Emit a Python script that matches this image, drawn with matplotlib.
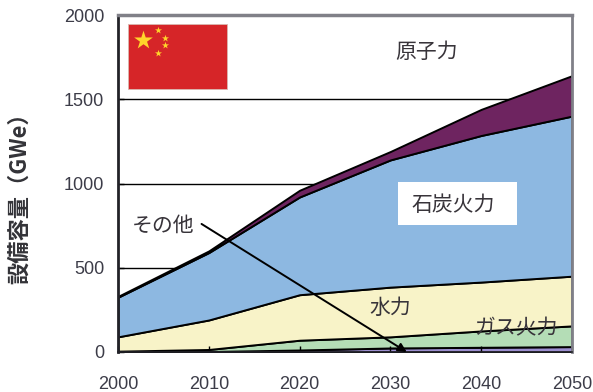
import matplotlib
matplotlib.use('Agg')
import matplotlib.pyplot as plt
from matplotlib.patches import Rectangle

plt.rcParams['font.family'] = ['Noto Sans CJK JP', 'DejaVu Sans']

years = [2000, 2010, 2020, 2030, 2040, 2050]

# installed capacity per source (GWe), bottom of the stack first
other = [3, 3, 12, 24, 28, 32]
gas = [2, 12, 58, 66, 97, 123]
hydro = [85, 175, 270, 295, 290, 295]
coal = [235, 400, 580, 755, 870, 950]
nuclear = [5, 10, 40, 50, 155, 240]

colors = ['#9C8FD0', '#B4DDB6', '#F8F3C8', '#8DB8E1', '#6E2460']
yticks = [0, 500, 1000, 1500, 2000]
xticks = years

W, H = 593, 392
L, R, T, B = 118, 572, 15, 352

fig = plt.figure(figsize=(W / 100, H / 100), dpi=100)
ax = fig.add_axes([L / W, (H - B) / H, (R - L) / W, (B - T) / H])

ax.hlines([500, 1000, 1500], years[0], years[-1], colors='black', linewidth=1.0, zorder=0.5)
ax.stackplot(years, other, gas, hydro, coal, nuclear, colors=colors,
             edgecolor='black', linewidth=1.4, zorder=1)

ax.set_xlim(years[0], years[-1])
ax.set_ylim(0, 2000)
ax.set_xticks(xticks)
ax.set_yticks(yticks)
ax.tick_params(axis='both', direction='in', length=4, width=1, color='black', labelcolor='#3c3c48')
for lab in ax.get_xticklabels() + ax.get_yticklabels():
    lab.set_fontfamily('Liberation Sans')
    lab.set_fontsize(13)
ax.tick_params(axis='x', pad=17)
ax.tick_params(axis='y', pad=10)

ax.spines['left'].set_color('#222228')
ax.spines['left'].set_linewidth(2)
ax.spines['bottom'].set_color('#222228')
ax.spines['bottom'].set_linewidth(1.2)
ax.spines['top'].set_color('#808088')
ax.spines['top'].set_linewidth(2.5)
ax.spines['right'].set_color('#808088')
ax.spines['right'].set_linewidth(2)

fig.text(20 / W, 1 - 193 / H, '設備容量（GWe）', rotation=90, ha='center', va='center',
         fontsize=16, fontweight='bold', color='#333338')

# source labels
label_color = '#38343a'
ax.add_patch(Rectangle((0.617, 0.377), 0.262, 0.128, transform=ax.transAxes,
                       facecolor='white', edgecolor='none', zorder=3))
ax.text(2034, 1780, '原子力', ha='center', va='center', fontsize=15, color=label_color)
ax.text(2036.9, 872, '石炭火力', ha='center', va='center', fontsize=15, color=label_color, zorder=4)
ax.text(2030, 262, '水力', ha='center', va='center', fontsize=15, color=label_color, zorder=4)
ax.text(2043.8, 138, 'ガス火力', ha='center', va='center', fontsize=15, color=label_color, zorder=4)
ax.text(2005, 750, 'その他', ha='center', va='center', fontsize=15, color=label_color, zorder=4)

ax.annotate('', xy=(2031.8, 0), xytext=(2009.2, 760), zorder=5, annotation_clip=False,
            arrowprops=dict(arrowstyle='-|>', color='black', lw=1.4, mutation_scale=13,
                            shrinkA=0, shrinkB=0))

# flag in the upper left corner
ax.add_patch(Rectangle((0.022, 0.78), 0.218, 0.193, transform=ax.transAxes,
                       facecolor='#D62528', edgecolor='#D9B8B0', linewidth=0.6, zorder=4))
ax.scatter([0.055], [0.925], marker='*', s=200, color='#FFD52A', linewidths=0,
           transform=ax.transAxes, zorder=5)
ax.scatter([0.088, 0.104, 0.104, 0.088], [0.955, 0.933, 0.91, 0.887], marker='*', s=28,
           color='#FFD52A', linewidths=0, transform=ax.transAxes, zorder=5)

fig.savefig('out.png', dpi=100)
